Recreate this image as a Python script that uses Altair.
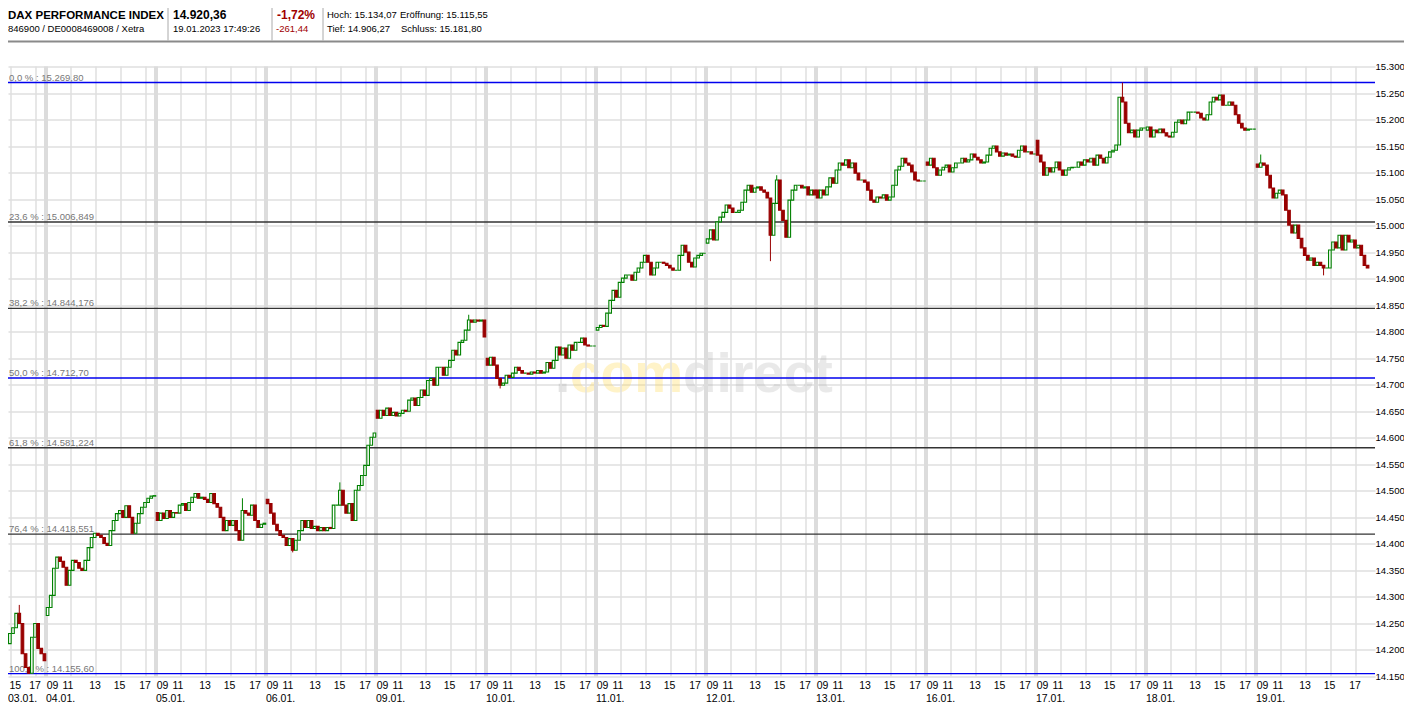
import json
import altair as alt
import pandas as pd

# ------------------------------------------------------------------ data
DAYS = ["03.01.", "04.01.", "05.01.", "06.01.", "09.01.", "10.01.", "11.01.",
        "12.01.", "13.01.", "16.01.", "17.01.", "18.01.", "19.01."]
# open of the first visible 15-minute candle of every day
DAY_OPEN = [14212, 14265, 14459, 14484, 14652, 14750, 14803,
            14967, 15067, 15120, 15161, 15180, 15116]

# 15-minute closes per day
C_0301 = [14231, 14242, 14269, 14250, 14193, 14167, 14156, 14224, 14250, 14203, 14193, 14180]
C_0401 = [14280, 14303, 14354, 14375, 14367, 14356, 14322, 14350, 14369, 14365, 14354, 14350,
          14369, 14393, 14412, 14420, 14416, 14412, 14401, 14397, 14425, 14444, 14457, 14463,
          14450, 14472, 14450, 14420, 14439, 14457, 14469, 14478, 14486, 14490, 14491]
C_0501 = [14444, 14458, 14448, 14463, 14450, 14459, 14458, 14473, 14476, 14463, 14478, 14488,
          14495, 14486, 14488, 14484, 14478, 14495, 14476, 14469, 14450, 14425, 14444, 14435,
          14444, 14425, 14407, 14463, 14458, 14454, 14473, 14444, 14431, 14437, 14439]
C_0601 = [14476, 14458, 14437, 14425, 14416, 14412, 14397, 14410, 14388, 14407, 14425, 14444,
          14431, 14444, 14429, 14433, 14425, 14431, 14425, 14431, 14429, 14473, 14473, 14501,
          14473, 14458, 14476, 14444, 14501, 14510, 14529, 14548, 14586, 14601, 14609]
C_0901 = [14637, 14652, 14642, 14656, 14642, 14648, 14641, 14646, 14652, 14650, 14671, 14675,
          14661, 14676, 14690, 14680, 14708, 14712, 14699, 14733, 14733, 14718, 14733, 14746,
          14765, 14756, 14780, 14784, 14803, 14822, 14818, 14822, 14820, 14822, 14790]
C_1001 = [14737, 14752, 14737, 14712, 14699, 14703, 14718, 14714, 14722, 14733, 14727, 14722,
          14722, 14720, 14724, 14722, 14727, 14722, 14724, 14742, 14731, 14746, 14771, 14756,
          14769, 14750, 14775, 14765, 14780, 14780, 14788, 14775, 14773, 14773, 14773]
C_1101 = [14808, 14812, 14810, 14835, 14859, 14878, 14865, 14893, 14901, 14907, 14907, 14897,
          14912, 14920, 14931, 14944, 14931, 14907, 14920, 14931, 14931, 14929, 14925, 14920,
          14916, 14916, 14944, 14963, 14950, 14931, 14922, 14939, 14944, 14948, 14948]
C_1201 = [14975, 14992, 14973, 15007, 15016, 15025, 15039, 15033, 15025, 15025, 15029, 15044,
          15067, 15076, 15063, 15071, 15073, 15067, 15063, 15052, 14982, 15042, 15086, 15029,
          15010, 14978, 15048, 15067, 15076, 15076, 15071, 15073, 15058, 15067, 15058]
C_1301 = [15052, 15067, 15058, 15073, 15090, 15080, 15105, 15118, 15114, 15124, 15109, 15118,
          15099, 15086, 15086, 15082, 15067, 15048, 15044, 15054, 15052, 15058, 15048, 15054,
          15076, 15105, 15112, 15127, 15118, 15114, 15101, 15086, 15084, 15084, 15084]
C_1601 = [15114, 15127, 15109, 15095, 15105, 15110, 15114, 15101, 15109, 15118, 15118, 15127,
          15120, 15124, 15135, 15129, 15124, 15118, 15120, 15133, 15146, 15150, 15139, 15131,
          15137, 15133, 15135, 15131, 15129, 15142, 15150, 15139, 15139, 15135, 15135]
C_1701 = [15133, 15120, 15095, 15109, 15101, 15109, 15120, 15105, 15095, 15105, 15109, 15110,
          15110, 15120, 15114, 15124, 15120, 15127, 15114, 15133, 15127, 15118, 15129, 15139,
          15142, 15152, 15242, 15233, 15193, 15175, 15180, 15167, 15180, 15184, 15184]
C_1801 = [15186, 15167, 15180, 15175, 15182, 15175, 15169, 15167, 15176, 15195, 15199, 15192,
          15199, 15214, 15214, 15214, 15212, 15203, 15199, 15209, 15233, 15242, 15237, 15246,
          15227, 15227, 15233, 15227, 15209, 15193, 15184, 15180, 15182, 15182, 15182]
C_1901 = [15110, 15118, 15114, 15095, 15071, 15052, 15061, 15067, 15058, 15029, 15001, 14986,
          15001, 14976, 14958, 14944, 14935, 14939, 14925, 14931, 14925, 14920, 14920, 14954,
          14969, 14958, 14982, 14954, 14982, 14969, 14973, 14958, 14963, 14944, 14925, 14920]
CLOSES = [C_0301, C_0401, C_0501, C_0601, C_0901, C_1001, C_1101,
          C_1201, C_1301, C_1601, C_1701, C_1801, C_1901]

# visible wicks (day, candle index, low, high)
WICK_DAY = ["03.01.", "03.01.", "05.01.", "06.01.", "06.01.", "09.01.", "10.01.",
            "12.01.", "12.01.", "17.01.", "19.01.", "19.01."]
WICK_BAR = [3, 6, 27, 8, 23, 29, 4, 20, 22, 27, 1, 21]
WICK_LOW = [14250, 14155.6, 14407, 14384, 14473, 14803, 14693, 14933, 15042, 15233, 15110, 14906.27]
WICK_HIGH = [14285, 14167, 14486, 14410, 14516, 14832, 14712, 15052, 15095, 15269.8, 15134.07, 14925]

# Fibonacci retracement levels
FIB_PCT = ["0,0 %", "23,6 %", "38,2 %", "50,0 %", "61,8 %", "76,4 %", "100,0 %"]
FIB_LEVEL = [15269.80, 15006.849, 14844.176, 14712.70, 14581.224, 14418.551, 14155.60]
FIB_TEXT = ["15.269,80", "15.006,849", "14.844,176", "14.712,70", "14.581,224", "14.418,551", "14.155,60"]
FIB_MAIN = [True, False, False, True, False, False, True]

# axis ticks / labels
Y_TICKS = [14150, 14200, 14250, 14300, 14350, 14400, 14450, 14500, 14550, 14600, 14650, 14700,
           14750, 14800, 14850, 14900, 14950, 15000, 15050, 15100, 15150, 15200, 15250, 15300]
HOUR_LABELS = ["09", "11", "13", "15", "17"]
GRID_HOURS = [11, 13, 15, 17]

# header texts
H_NAME = "DAX PERFORMANCE INDEX"
H_ID = "846900 / DE0008469008 / Xetra"
H_LAST = "14.920,36"
H_TIME = "19.01.2023 17:49:26"
H_PCT = "-1,72%"
H_ABS = "-261,44"
H_HIGH = "Hoch: 15.134,07"
H_OPEN = "Eröffnung: 15.115,55"
H_LOW = "Tief: 14.906,27"
H_PREV = "Schluss: 15.181,80"

# ------------------------------------------------------------------ layout / style
W, H = 1367, 610
PX_PER_HOUR = 12.5
DAY_LEN = 8.8            # 09:00 .. 17:48 on the axis
SLOTS = 35
STEP = DAY_LEN / SLOTS
X_DOM = [-3.04, -3.04 + W / PX_PER_HOUR]
Y_DOM = [14150, 15300]
LABEL_OFF = [0.48, 1.72, 3.88, 5.84, 7.88]   # label anchor (hours after 09:00)

FONT = "Liberation Sans, Arial, sans-serif"
RED = "#990000"
GREEN = "#008000"
GRID = "#dfdfdf"

# ------------------------------------------------------------------ tables
rows = []
for k, (day, op, closes) in enumerate(zip(DAYS, DAY_OPEN, CLOSES)):
    d0 = (k - 1) * DAY_LEN
    first = SLOTS - len(closes) if k == 0 else 0
    prev = op
    for i, c in enumerate(closes):
        up = c >= prev
        rows.append({"day": day, "bar": i, "t": d0 + (first + i + 0.5) * STEP,
                     "open": prev, "close": c,
                     "fill": "#ffffff" if up else RED,
                     "stroke": GREEN if up else RED})
        prev = c
candles = pd.DataFrame(rows)

wk = []
for d, b, lo, hi in zip(WICK_DAY, WICK_BAR, WICK_LOW, WICK_HIGH):
    r = candles[(candles.day == d) & (candles.bar == b)].iloc[0]
    wk.append({"t": r.t, "low": lo, "high": hi, "stroke": r.stroke})
wicks = pd.DataFrame(wk)

grid_t, sep_t, lab_t, date_rows = [], [], [], []
for k, day in enumerate(DAYS):
    d0 = (k - 1) * DAY_LEN
    for h in GRID_HOURS:
        t = d0 + (h - 9)
        if X_DOM[0] < t < X_DOM[1]:
            grid_t.append(t)
    if k > 0:
        sep_t.append(d0)
    for off in LABEL_OFF:
        t = d0 + off
        if X_DOM[0] - 0.1 <= t <= X_DOM[1]:
            lab_t.append(round(t, 4))
    date_rows.append({"t": max(d0, X_DOM[0]), "day": day})
grid_df = pd.DataFrame({"t": grid_t})
sep_df = pd.DataFrame({"t": sep_t})
date_df = pd.DataFrame(date_rows)

fib_df = pd.DataFrame({
    "level": FIB_LEVEL,
    "label": [f"{p} : {t}" for p, t in zip(FIB_PCT, FIB_TEXT)],
    "col": ["#0000ee" if m else "#333333" for m in FIB_MAIN],
})

# ------------------------------------------------------------------ scales / axes
xs = alt.Scale(domain=X_DOM, nice=False, zero=False, padding=0)
ys = alt.Scale(domain=Y_DOM, nice=False, zero=False, padding=0)
hour_expr = (json.dumps(HOUR_LABELS).replace('"', "'") +
             f"[floor((datum.value - {DAY_LEN}*floor(datum.value/{DAY_LEN}) + 1)/2)]")
x_axis = alt.Axis(values=lab_t, labelExpr=hour_expr, title=None, grid=False, ticks=False,
                  domain=False, labelFont=FONT, labelFontSize=10.5, labelColor="#000000",
                  labelPadding=4, labelFlush=10, labelOverlap=False, labelBound=False)
y_axis = alt.Axis(orient="right", values=Y_TICKS,
                  labelExpr="replace(format(datum.value, ','), ',', '.')",
                  title=None, grid=True, gridColor=GRID, gridWidth=1.5, ticks=False,
                  domain=False, labelFont=FONT, labelFontSize=9.6, labelColor="#000000",
                  labelPadding=0, labelOverlap=False)


def X(f):
    return alt.X(f, type="quantitative", scale=xs, axis=x_axis)


def Y(f):
    return alt.Y(f, type="quantitative", scale=ys, axis=y_axis)


ONE = pd.DataFrame({"k": [0]})


def txt(text, x, y, size=11, bold=False, color="#000000"):
    return alt.Chart(ONE).mark_text(
        text=text, align="left", baseline="alphabetic", font=FONT, fontSize=size,
        fontWeight="bold" if bold else "normal", color=color
    ).encode(x=alt.value(x), y=alt.value(y))


# watermark
def wm(text, x, color, opacity):
    return alt.Chart(ONE).mark_text(
        text=text, align="left", baseline="alphabetic", font=FONT, fontSize=55,
        fontWeight="bold", color=color, opacity=opacity
    ).encode(x=alt.value(x), y=alt.value(325.5))


watermark = [wm(".", 547, "#999999", 0.25), wm("com", 562, "#ffd84d", 0.3),
             wm("direct", 675, "#a8a8a8", 0.24)]

vgrid = alt.Chart(grid_df).mark_rule(color=GRID, strokeWidth=1.5).encode(x=X("t"))
seps = alt.Chart(sep_df).mark_rule(color="#dcdcdc", strokeWidth=4).encode(x=X("t"))
fib_rules = alt.Chart(fib_df).mark_rule(strokeWidth=1.3).encode(
    y=Y("level"), color=alt.Color("col:N", scale=None))
fib_text = alt.Chart(fib_df).mark_text(
    align="left", baseline="alphabetic", dy=-2, font=FONT, fontSize=9.5, color="#777777"
).encode(x=alt.value(1), y=Y("level"), text="label:N")
wick_layer = alt.Chart(wicks).mark_rule(strokeWidth=1).encode(
    x=X("t"), y=Y("low"), y2="high", color=alt.Color("stroke:N", scale=None))
candle_layer = alt.Chart(candles).mark_bar(size=2.6, strokeWidth=1.1).encode(
    x=X("t"), y=Y("open"), y2="close",
    fill=alt.Fill("fill:N", scale=None), stroke=alt.Stroke("stroke:N", scale=None))
dates = alt.Chart(date_df).mark_text(
    align="left", baseline="top", font=FONT, fontSize=10.5, color="#000000"
).encode(x=X("t"), y=alt.value(627), text="day:N")

# header
hdr_line = alt.Chart(ONE).mark_rule(color="#8a8a8a", strokeWidth=2).encode(
    x=alt.value(-8), x2=alt.value(1404), y=alt.value(-25))
hdr_seps = [alt.Chart(ONE).mark_rule(color="#aaaaaa", strokeWidth=1).encode(
    x=alt.value(xv), y=alt.value(-58.5), y2=alt.value(-26)) for xv in (160, 264, 315)]
header = [
    txt(H_NAME, 0, -47.5, size=11.5, bold=True),
    txt(H_ID, 0, -35, size=9.5),
    txt(H_LAST, 165, -47.5, size=12, bold=True),
    txt(H_TIME, 165, -35, size=9.5),
    txt(H_PCT, 269, -47.5, size=12, bold=True, color="#a00000"),
    txt(H_ABS, 268, -35, size=9.5, color="#a00000"),
    txt(H_HIGH, 319, -48.5, size=9.5),
    txt(H_OPEN, 392, -48.5, size=9.5),
    txt(H_LOW, 319, -35, size=9.5),
    txt(H_PREV, 393, -35, size=9.5),
]

chart = alt.layer(
    *watermark, vgrid, seps, fib_rules, fib_text, wick_layer, candle_layer, dates,
    hdr_line, *hdr_seps, *header
).properties(
    width=W, height=H,
    autosize=alt.AutoSizeParams(type="none"),
    padding={"left": 0, "top": 58.5, "right": 29, "bottom": 26},
    background="#ffffff",
).configure_view(stroke=None)

chart.save("out.html", embed_options={"renderer": "svg", "actions": False})
